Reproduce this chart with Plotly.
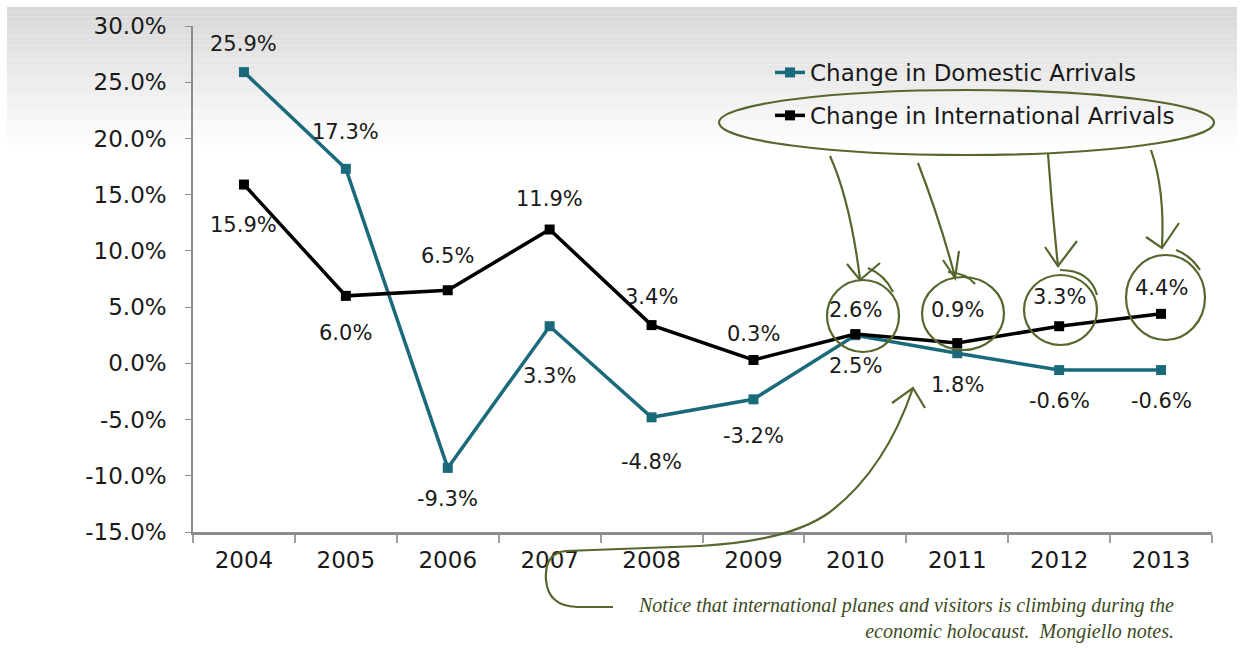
import plotly.graph_objects as go

years = ["2004", "2005", "2006", "2007", "2008", "2009", "2010", "2011", "2012", "2013"]
domestic = [25.9, 17.3, -9.3, 3.3, -4.8, -3.2, 2.5, 0.9, -0.6, -0.6]
international = [15.9, 6.0, 6.5, 11.9, 3.4, 0.3, 2.6, 1.8, 3.3, 4.4]
y_ticks = [-15, -10, -5, 0, 5, 10, 15, 20, 25, 30]
note_text = ("Notice that international planes and visitors is climbing during the<br>"
             "economic holocaust.  Mongiello notes.")

# label offsets (pixels) - styling only
dom_shift = [28, 37, -31, -50, -45, -37, -31, 43, -31, -31]
int_shift = [-40, -37, 34, 31, 28, 26, 24, -42, 29, 26]

TEAL = "#1b6a7c"
BLACK = "#000000"
GREEN = "#56672e"
FONT = "DejaVu Sans"

W, H = 1244, 649
L, R, T, B = 193, 1212, 26, 532


def px(x):
    return (x - L) / (R - L)


def py(y):
    return (B - y) / (B - T)


def path(cmds):
    out = []
    for c in cmds:
        if isinstance(c, str):
            out.append(c)
        else:
            out.append(f"{px(c[0]):.5f},{py(c[1]):.5f}")
    return " ".join(out)


fig = go.Figure()
fig.add_trace(go.Scatter(
    x=years, y=domestic, mode="lines+markers", name="Change in Domestic Arrivals",
    line=dict(color=TEAL, width=3.5), marker=dict(symbol="square", size=10, color=TEAL),
    legendgroup="d"))
fig.add_trace(go.Scatter(
    x=years, y=international, mode="lines+markers", name="Change in International Arrivals",
    line=dict(color=BLACK, width=3.5), marker=dict(symbol="square", size=10, color=BLACK),
    legendgroup="i"))

annotations = []
for i, (v, s) in enumerate(zip(domestic, dom_shift)):
    annotations.append(dict(x=i, y=v, xref="x", yref="y", text=f"{v:.1f}%",
                            showarrow=False, yshift=s,
                            font=dict(family=FONT, size=21, color="#1a1a1a")))
for i, (v, s) in enumerate(zip(international, int_shift)):
    annotations.append(dict(x=i, y=v, xref="x", yref="y", text=f"{v:.1f}%",
                            showarrow=False, yshift=s,
                            font=dict(family=FONT, size=21, color="#1a1a1a")))

annotations.append(dict(
    xref="paper", yref="paper", x=px(1176), y=py(592), xanchor="right", yanchor="top",
    align="right", showarrow=False, text=f"<i>{note_text}</i>",
    font=dict(family="Liberation Serif", size=20, color="#3c4a1e")))

shapes = []
# gray gradient header band
n = 30
top, bot = 7, 150
for i in range(n):
    y0 = top + (bot - top) * i / n
    y1 = top + (bot - top) * (i + 1) / n
    t = i / (n - 1)
    c = int(216 + (255 - 216) * t)
    shapes.append(dict(type="rect", xref="paper", yref="paper", layer="below",
                       x0=px(7), x1=px(1237), y0=py(y1), y1=py(y0),
                       fillcolor=f"rgb({c},{c},{c})", line=dict(width=0)))

hand = dict(color=GREEN, width=2.2)
# ellipse around legend
shapes.append(dict(type="circle", xref="paper", yref="paper",
                   x0=px(719), x1=px(1214), y0=py(155), y1=py(90), line=hand))
# circles around labels
for (x0, x1, y0, y1) in [(827, 899, 280, 352), (922, 1004, 277, 350),
                         (1024, 1097, 275, 345), (1126, 1205, 255, 340)]:
    shapes.append(dict(type="circle", xref="paper", yref="paper",
                       x0=px(x0), x1=px(x1), y0=py(y1), y1=py(y0), line=hand))
# arrows from legend ellipse
arrows = [
    (["M", (830, 156), "Q", (850, 200), (860, 279)], ["M", (847, 264), "L", (860, 280), "L", (880, 263)]),
    (["M", (918, 163), "Q", (940, 220), (955, 277)], ["M", (943, 260), "L", (955, 278), "L", (959, 251)]),
    (["M", (1048, 154), "Q", (1052, 210), (1058, 266)], ["M", (1045, 247), "L", (1058, 266), "L", (1077, 241)]),
    (["M", (1151, 150), "Q", (1165, 190), (1162, 247)], ["M", (1146, 237), "L", (1162, 248), "L", (1179, 223)]),
]
for body, head in arrows:
    shapes.append(dict(type="path", xref="paper", yref="paper", path=path(body), line=hand))
    shapes.append(dict(type="path", xref="paper", yref="paper", path=path(head), line=hand))
# small flicks on circles
for body in [["M", (868, 268), "Q", (885, 275), (893, 292)],
             ["M", (948, 272), "Q", (966, 273), (975, 284)],
             ["M", (1060, 270), "Q", (1090, 270), (1097, 295)],
             ["M", (1176, 250), "Q", (1190, 255), (1200, 270)]]:
    shapes.append(dict(type="path", xref="paper", yref="paper", path=path(body), line=hand))
# curved arrow from note
curve = ["M", (613, 607), "L", (577, 607), "Q", (548, 606), (546, 580),
         "Q", (544, 553), (566, 551), "L", (700, 546), "Q", (790, 541), (830, 512),
         "Q", (885, 470), (913, 388)]
shapes.append(dict(type="path", xref="paper", yref="paper", path=path(curve), line=hand))
shapes.append(dict(type="path", xref="paper", yref="paper",
                   path=path(["M", (892, 403), "L", (913, 388), "L", (925, 408)]), line=hand))

fig.update_layout(
    width=W, height=H,
    margin=dict(l=L, r=W - R, t=T, b=H - B),
    paper_bgcolor="white", plot_bgcolor="rgba(0,0,0,0)",
    font=dict(family=FONT, size=22, color="#1a1a1a"),
    showlegend=True,
    legend=dict(x=px(770), y=py(51), xanchor="left", yanchor="top",
                bgcolor="rgba(0,0,0,0)", font=dict(family=FONT, size=23, color="#1a1a1a"),
                tracegroupgap=10, itemwidth=30),
    annotations=annotations,
    shapes=shapes,
    xaxis=dict(type="category", range=[-0.5, 9.5], showgrid=False, zeroline=False,
               showline=True, linecolor="#8c8c8c", linewidth=2.5,
               ticks="outside", tickson="boundaries", ticklen=8, tickcolor="#a0a0a0",
               tickwidth=1.5, ticklabelstandoff=6,
               tickfont=dict(family=FONT, size=23, color="#1a1a1a")),
    yaxis=dict(range=[-15, 30], tickvals=y_ticks,
               ticktext=[f"{v:.1f}%" for v in y_ticks], showgrid=False, zeroline=False,
               showline=True, linecolor="#8c8c8c", linewidth=1.5,
               ticks="outside", ticklen=6, tickcolor="#8c8c8c", ticklabelstandoff=14,
               tickfont=dict(family=FONT, size=23, color="#1a1a1a")),
)

fig.write_html("out.html", config={"displayModeBar": False},
               post_script="document.body.style.margin='0';")
